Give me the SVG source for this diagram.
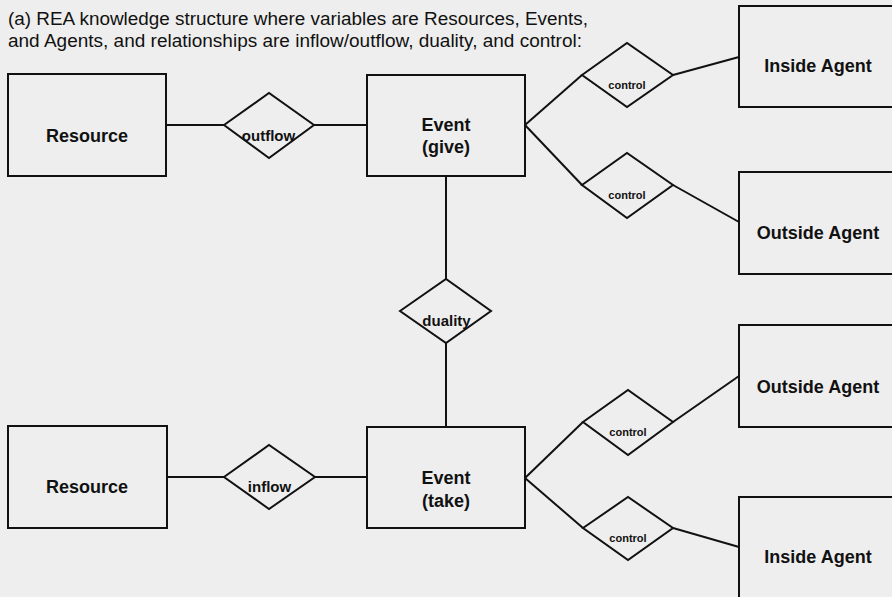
<svg xmlns="http://www.w3.org/2000/svg" width="892" height="597" viewBox="0 0 892 597">
<style>
.bg{fill:#eeeeee}
.box{fill:none;stroke:#111;stroke-width:2}
.dia{fill:none;stroke:#111;stroke-width:2;stroke-linejoin:miter}
.ln{stroke:#111;stroke-width:2;fill:none}
.title{font-family:"Liberation Sans",Arial,sans-serif;font-size:17.5px;fill:#111}
.lbl{font-family:"Liberation Sans",Arial,sans-serif;font-size:18px;font-weight:bold;fill:#111;text-anchor:middle}
.rel{font-family:"Liberation Sans",Arial,sans-serif;font-size:15px;font-weight:bold;fill:#111;text-anchor:middle}
.ctl{font-family:"Liberation Sans",Arial,sans-serif;font-size:11px;font-weight:bold;fill:#111;text-anchor:middle}
</style>
<rect class="bg" x="0" y="0" width="892" height="597"/>
<g id="title">
<text class="title" x="8" y="25" textLength="580" lengthAdjust="spacingAndGlyphs">(a) REA knowledge structure where variables are Resources, Events,</text>
<text class="title" x="8" y="47" textLength="574" lengthAdjust="spacingAndGlyphs">and Agents, and relationships are inflow/outflow, duality, and control:</text>
</g>
<g id="connectors">
<line class="ln" x1="166" y1="125" x2="224" y2="125"/>
<line class="ln" x1="314" y1="125" x2="367" y2="125"/>
<line class="ln" x1="446" y1="176" x2="446" y2="279"/>
<line class="ln" x1="446" y1="343" x2="446" y2="427"/>
<line class="ln" x1="167" y1="477" x2="224" y2="477"/>
<line class="ln" x1="315" y1="477" x2="367" y2="477"/>
<line class="ln" x1="525" y1="125" x2="582" y2="75"/>
<line class="ln" x1="673" y1="75" x2="739" y2="57"/>
<line class="ln" x1="525" y1="125" x2="582" y2="185"/>
<line class="ln" x1="673" y1="185" x2="739" y2="222"/>
<line class="ln" x1="525" y1="478" x2="583" y2="422"/>
<line class="ln" x1="673" y1="422" x2="739" y2="376"/>
<line class="ln" x1="525" y1="478" x2="583" y2="528"/>
<line class="ln" x1="673" y1="528" x2="739" y2="547"/>
</g>
<g id="resource-top">
<rect class="box" x="8" y="74" width="158" height="102"/>
<text class="lbl" x="87" y="142">Resource</text>
</g>
<g id="outflow">
<polygon class="dia" points="224,125 269,93 314,125 269,158"/>
<text class="rel" x="268.5" y="141">outflow</text>
</g>
<g id="event-give">
<rect class="box" x="367" y="75" width="158" height="101"/>
<text class="lbl" x="446" y="131">Event</text>
<text class="lbl" x="446" y="153">(give)</text>
</g>
<g id="control-1">
<polygon class="dia" points="582,75 627,43 673,75 627,107"/>
<text class="ctl" x="627" y="89">control</text>
</g>
<g id="control-2">
<polygon class="dia" points="582,185 627,153 673,185 627,218"/>
<text class="ctl" x="627" y="199">control</text>
</g>
<g id="inside-agent-top">
<rect class="box" x="739" y="6" width="170" height="101"/>
<text class="lbl" x="818" y="72">Inside Agent</text>
</g>
<g id="outside-agent-top">
<rect class="box" x="739" y="172" width="170" height="102"/>
<text class="lbl" x="818" y="239">Outside Agent</text>
</g>
<g id="duality">
<polygon class="dia" points="400,311 446,279 491,311 446,343"/>
<text class="rel" x="446.5" y="326">duality</text>
</g>
<g id="resource-bottom">
<rect class="box" x="8" y="426" width="159" height="102"/>
<text class="lbl" x="87" y="493">Resource</text>
</g>
<g id="inflow">
<polygon class="dia" points="224,477 269,445 315,477 269,509"/>
<text class="rel" x="269.5" y="492">inflow</text>
</g>
<g id="event-take">
<rect class="box" x="367" y="427" width="158" height="101"/>
<text class="lbl" x="446" y="484">Event</text>
<text class="lbl" x="446" y="507">(take)</text>
</g>
<g id="control-3">
<polygon class="dia" points="583,422 628,390 673,422 628,455"/>
<text class="ctl" x="628" y="436">control</text>
</g>
<g id="control-4">
<polygon class="dia" points="583,528 628,497 673,528 628,560"/>
<text class="ctl" x="628" y="542">control</text>
</g>
<g id="outside-agent-bottom">
<rect class="box" x="739" y="325" width="170" height="102"/>
<text class="lbl" x="818" y="393">Outside Agent</text>
</g>
<g id="inside-agent-bottom">
<rect class="box" x="739" y="497" width="170" height="120"/>
<text class="lbl" x="818" y="563">Inside Agent</text>
</g>
</svg>
